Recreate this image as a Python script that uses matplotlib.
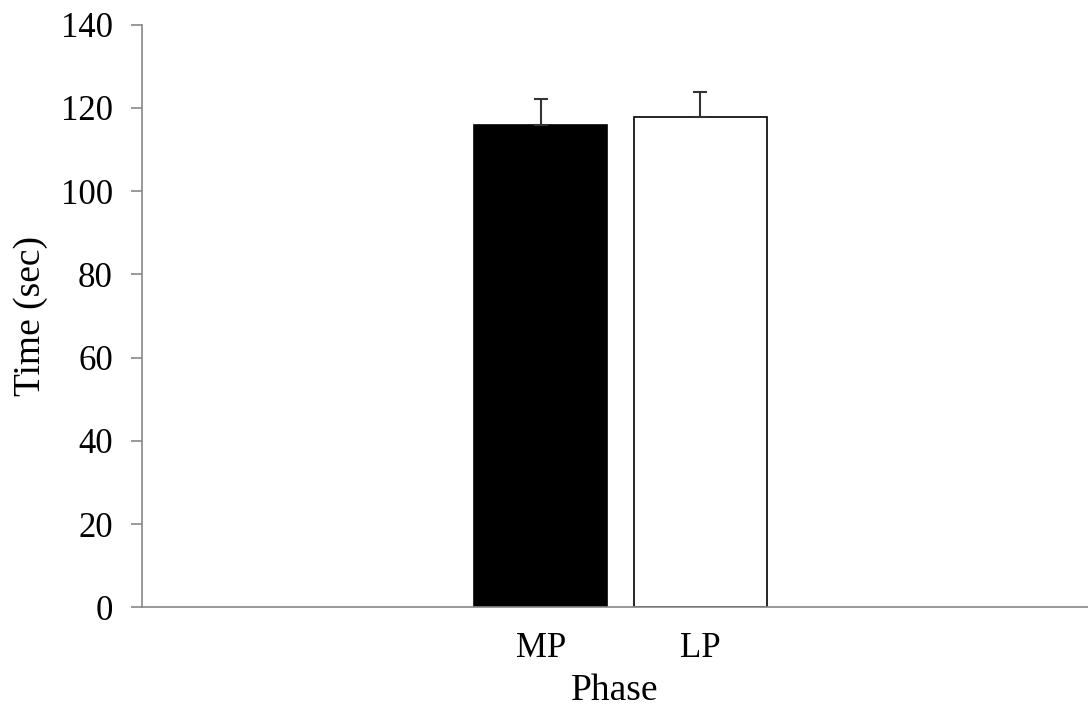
import numpy as np
import matplotlib
matplotlib.use("Agg")
import matplotlib.pyplot as plt

# Mean time per phase with standard error
phases = ["MP", "LP"]
times = [115.8, 117.9]
errors = [6.4, 6.0]
colors = ["black", "white"]

plt.rcParams["font.family"] = ["Liberation Serif", "DejaVu Serif"]
plt.rcParams["font.size"] = 25

fig = plt.figure(figsize=(10.88, 7.09), dpi=100)
ax = fig.add_axes([0.1305, 0.1434, 0.8695, 0.8218])

x = np.arange(len(phases))
ax.bar(x, times, width=0.835, color=colors, edgecolor="black", linewidth=1.2,
       yerr=[np.zeros(len(errors)), errors],
       error_kw=dict(ecolor="#333333", elinewidth=1.5, capsize=5, capthick=1.5))

ax.set_xlim(-2.5, 3.43)
ax.set_ylim(0, 140)
ax.set_yticks(np.arange(0, 141, 20))
ax.set_xticks(x)
ax.set_xticklabels(phases)

for side in ["top", "right"]:
    ax.spines[side].set_visible(False)
for side in ["left", "bottom"]:
    ax.spines[side].set_color("#888888")
    ax.spines[side].set_linewidth(1.2)

ax.tick_params(axis="y", direction="out", length=8, width=1.2, color="#888888", pad=13)
ax.tick_params(axis="x", length=0, pad=18)

ax.set_ylabel("Time (sec)", fontsize=27, labelpad=9)
ax.set_xlabel("Phase", fontsize=27, labelpad=6)

plt.savefig("out.png", dpi=100)
